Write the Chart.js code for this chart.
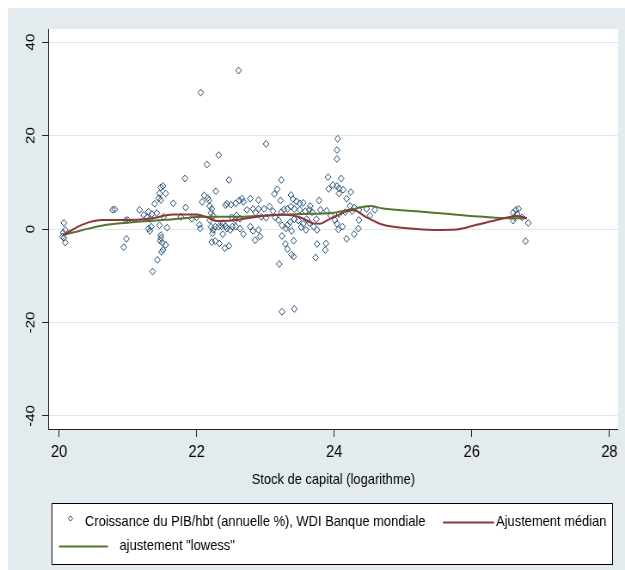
<!DOCTYPE html>
<html>
<head>
<meta charset="utf-8">
<script src="https://cdn.jsdelivr.net/npm/chart.js@4.4.1/dist/chart.umd.min.js"></script>
<style>
  html, body { margin: 0; padding: 0; background: #fff; }
  #capital { display: block; }
</style>
</head>
<body>
<canvas id="capital" width="727" height="570" style="width:625px;height:570px"></canvas>
<script>
// log capital stock (x) vs GDP per capita growth (y), one point per observation
const capitalLog = [
  20.07, 20.09, 20.05, 20.07, 20.09, 20.06, 20.78, 20.81, 20.98, 20.94,
  20.97, 21.00, 21.17, 21.23, 21.28, 21.30, 21.32, 21.35, 21.39, 21.42,
  21.45, 21.46, 21.48, 21.48, 21.51, 21.55, 21.52, 21.46, 21.30, 21.32,
  21.34, 21.48, 21.48, 21.47, 21.50, 21.55, 21.51, 21.49, 21.43, 21.36,
  21.57, 21.66, 21.83, 21.84, 21.77, 21.93, 22.00, 22.04, 22.05, 22.15,
  22.32, 22.47, 22.28, 22.11, 22.08, 22.16, 22.18, 22.19, 22.22, 22.21,
  22.24, 22.19, 22.21, 22.24, 22.27, 22.23, 22.22, 22.27, 22.33, 22.41,
  22.47, 22.38, 22.36, 22.42, 22.50, 22.57, 22.51, 22.56, 22.42, 22.44,
  22.52, 22.58, 22.62, 23.01, 23.23, 23.17, 23.13, 23.22, 23.37, 23.40,
  23.45, 23.50, 23.55, 24.05, 24.04, 24.04, 23.91, 23.98, 24.10, 23.92,
  24.04, 24.07, 24.13, 24.24, 24.18, 23.78, 22.44, 22.66, 22.68, 22.78,
  22.82, 22.90, 22.98, 23.06, 23.11, 23.23, 23.27, 23.32, 23.37, 23.42,
  23.50, 23.58, 23.64, 23.68, 23.80, 23.89, 23.95, 24.01, 24.07, 24.16,
  24.26, 24.29, 24.36, 24.47, 24.59, 24.52, 24.36, 24.35, 24.29, 24.18,
  24.12, 24.06, 24.04, 23.88, 23.87, 23.75, 23.73, 23.75, 23.70, 23.64,
  23.55, 23.52, 23.59, 23.48, 23.42, 23.36, 23.32, 23.30, 23.38, 23.41,
  23.29, 23.32, 23.38, 23.41, 23.24, 23.24, 23.19, 23.14, 23.20, 23.01,
  22.94, 22.90, 22.92, 22.85, 22.82, 22.68, 22.63, 22.57, 22.49, 22.38,
  22.32, 22.63, 22.78, 22.73, 22.90, 22.86, 23.24, 23.42, 22.06, 22.61,
  23.65, 24.23, 23.74, 23.60, 24.07, 26.60, 26.64, 26.68, 26.62, 26.60,
  26.73, 26.82, 26.78, 26.66
];
const growthPib = [
  1.3, -0.2, -1.6, -1.9, -2.9, -0.8, 4.1, 4.2, -2.1, -3.9,
  1.9, 1.9, 4.1, 3.0, 2.5, 3.7, 2.1, 3.2, 5.4, 3.4,
  6.6, 7.6, 6.2, 8.9, 9.2, 7.6, 2.6, 0.8, 0.1, -0.4,
  0.5, -1.3, -1.9, -2.5, -2.9, -3.4, -4.5, -4.9, -6.6, -9.1,
  0.3, 5.5, 10.8, 4.6, 2.6, 2.2, 2.5, 0.9, 0.1, 13.8,
  15.8, 10.5, 8.1, 7.2, 5.8, 6.6, 6.2, 4.9, 4.3, 3.5,
  2.8, 1.9, 0.5, -0.2, 0.5, -0.9, -2.8, -2.6, -3.1, -4.1,
  -3.6, -1.1, 0.6, 5.1, 5.2, 5.5, 2.5, 1.9, 0.6, 0.1,
  0.5, 2.9, 6.1, 18.2, 10.5, 8.5, 7.5, 6.1, 7.3, 6.4,
  5.9, 5.5, 5.6, 19.3, 16.9, 15.0, 11.1, 9.4, 10.8, 8.6,
  9.2, 7.6, 8.4, 7.9, 6.5, 6.1, 5.4, 6.5, 5.8, 6.5,
  4.3, 4.3, 4.3, 4.8, 3.8, 3.6, 4.2, 4.3, 4.8, 4.3,
  4.1, 3.8, 4.1, 3.6, 4.1, 3.9, 2.9, 1.9, 3.2, 3.6,
  3.8, 4.6, 4.1, 4.3, 4.1, 2.9, 1.9, 0.1, -1.1, -2.1,
  0.5, -0.1, 1.1, -3.1, -4.5, -3.2, -6.1, -0.2, 0.5, 1.3,
  1.1, 0.4, -0.2, 1.8, 2.1, 1.5, 0.8, 0.1, -0.4, -2.5,
  -3.2, -4.3, -5.5, -5.9, -1.5, 0.8, 1.9, 2.5, -7.5, 2.4,
  2.6, -0.2, -1.6, -2.4, -0.4, -1.1, 0.1, 0.5, -0.2, 1.3,
  0.5, 2.2, 0.5, 4.1, 6.2, 3.5, -17.7, -17.1, 29.2, 33.9,
  4.9, 4.9, 2.1, 2.1, 8.7, 3.5, 4.1, 4.3, 2.5, 1.8,
  2.5, 1.3, -2.6, 3.2
];

// median spline
const medianX = [20.06, 20.35, 20.64, 20.93, 21.32, 21.66, 22.0, 22.15, 22.3, 22.5, 22.78, 23.02, 23.26, 23.5, 23.7, 23.79, 23.89, 24.04, 24.18, 24.28, 24.47, 24.71, 25.1, 25.44, 25.78, 26.07, 26.41, 26.65, 26.8];
const medianY = [-1.3, 1.0, 1.9, 1.9, 2.2, 3.1, 3.1, 2.5, 1.7, 1.8, 2.4, 2.9, 3.1, 2.5, 1.2, 1.1, 1.8, 2.9, 3.8, 4.0, 2.5, 0.9, 0.1, -0.2, -0.1, 0.9, 2.1, 2.8, 2.3];

// lowess smoother
const lowessX = [20.06, 20.35, 20.69, 21.18, 21.66, 22.15, 22.63, 23.02, 23.5, 23.99, 24.28, 24.52, 24.71, 25.2, 25.68, 26.17, 26.55, 26.8];
const lowessY = [-1.3, -0.2, 0.9, 1.6, 2.1, 2.6, 2.6, 2.9, 3.2, 3.5, 4.3, 4.9, 4.4, 3.8, 3.2, 2.6, 2.3, 2.3];

const xTickValues = [20, 22, 24, 26, 28];
const yTickValues = [-40, -20, 0, 20, 40];

const NAVY = "rgb(26,71,111)";
const MAROON = "rgb(144,53,59)";
const FOREST = "rgb(85,117,47)";
const FONT = "'Liberation Sans', Arial, sans-serif";

// canvas is drawn wider and squeezed to 625px by css
const X = (v) => (v * 727) / 625;

const pairs = (xs, ys) => xs.map((x, i) => ({ x: x, y: ys[i] }));

const backdrop = {
  id: "backdrop",
  beforeDraw(chart) {
    const { ctx, chartArea: a } = chart;
    ctx.save();
    ctx.fillStyle = "#e3ebee";
    ctx.fillRect(X(8), 8, chart.width, chart.height);
    ctx.fillStyle = "#ffffff";
    ctx.fillRect(a.left, a.top, a.right - a.left, a.bottom - a.top);
    ctx.restore();
  },
};

// rotated y tick labels
const yLabels = {
  id: "yLabels",
  afterDraw(chart) {
    const { ctx } = chart;
    const s = chart.scales.y;
    ctx.save();
    ctx.font = "15px " + FONT;
    ctx.fillStyle = "#000";
    ctx.textAlign = "center";
    ctx.textBaseline = "middle";
    s.ticks.forEach((t) => {
      ctx.save();
      ctx.translate(X(31), s.getPixelForValue(t.value));
      ctx.rotate(-Math.PI / 2);
      ctx.fillText(String(t.value), 0, 0);
      ctx.restore();
    });
    ctx.restore();
  },
};

// boxed legend below the axis title
const boxLegend = {
  id: "boxLegend",
  afterDraw(chart) {
    const { ctx } = chart;
    const ds = chart.data.datasets;
    ctx.save();
    ctx.fillStyle = "#fff";
    ctx.fillRect(X(52), 503, X(612.5) - X(52), 62);
    ctx.strokeStyle = "#000";
    ctx.lineWidth = 1;
    ctx.strokeRect(Math.round(X(52)) + 0.5, 503.5, Math.round(X(612.5) - X(52)), 61);

    ctx.font = "15px " + FONT;
    ctx.fillStyle = "#000";
    ctx.textBaseline = "middle";

    // marker key
    ctx.strokeStyle = NAVY;
    ctx.beginPath();
    const cx = X(70.5), cy = 518.5, r = 2.6;
    ctx.moveTo(cx, cy - r);
    ctx.lineTo(cx + r, cy);
    ctx.lineTo(cx, cy + r);
    ctx.lineTo(cx - r, cy);
    ctx.closePath();
    ctx.stroke();
    ctx.fillText(ds[2].label, X(85), 522);

    // line keys
    ctx.lineWidth = 2;
    ctx.strokeStyle = MAROON;
    ctx.beginPath();
    ctx.moveTo(X(443), 522.5);
    ctx.lineTo(X(494), 522.5);
    ctx.stroke();
    ctx.fillText(ds[0].label, X(496), 522);

    ctx.strokeStyle = FOREST;
    ctx.beginPath();
    ctx.moveTo(X(59), 546.5);
    ctx.lineTo(X(108), 546.5);
    ctx.stroke();
    ctx.fillText(ds[1].label, X(119.5), 546);
    ctx.restore();
  },
};

const ctx = document.getElementById("capital").getContext("2d");

new Chart(ctx, {
  type: "scatter",
  data: {
    datasets: [
      {
        label: "Ajustement médian",
        data: pairs(medianX, medianY),
        showLine: true,
        borderColor: MAROON,
        borderWidth: 2,
        pointRadius: 0,
        cubicInterpolationMode: "monotone",
        order: 0,
      },
      {
        label: 'ajustement "lowess"',
        data: pairs(lowessX, lowessY),
        showLine: true,
        borderColor: FOREST,
        borderWidth: 2,
        pointRadius: 0,
        cubicInterpolationMode: "monotone",
        order: 0,
      },
      {
        label: "Croissance du PIB/hbt (annuelle %), WDI Banque mondiale",
        data: pairs(capitalLog, growthPib),
        pointStyle: "rectRot",
        pointRadius: 3.4,
        borderWidth: 1,
        borderColor: NAVY,
        backgroundColor: "rgba(0,0,0,0)",
        order: 1,
      },
    ],
  },
  options: {
    responsive: false,
    animation: false,
    events: [],
    layout: {
      autoPadding: false,
      padding: { left: X(8), top: 29, right: 727 - X(618), bottom: 81 },
    },
    plugins: {
      legend: { display: false },
      tooltip: { enabled: false },
    },
    scales: {
      x: {
        type: "linear",
        min: 19.85,
        max: 28.125,
        afterFit: (s) => { s.height = 60; },
        afterBuildTicks: (s) => { s.ticks = xTickValues.map((v) => ({ value: v })); },
        grid: { drawOnChartArea: false, tickLength: 8, tickColor: "#222" },
        border: { color: "#222", width: 1 },
        ticks: { autoSkip: false, maxRotation: 0, padding: 5, color: "#000", font: { family: FONT, size: 17 } },
        title: {
          display: true,
          text: "Stock de capital (logarithme)",
          color: "#000",
          padding: { top: 0, bottom: 0 },
          font: { family: FONT, size: 15 },
        },
      },
      y: {
        type: "linear",
        min: -42.8,
        max: 42.8,
        afterFit: (s) => { s.width = X(40.7); },
        afterBuildTicks: (s) => { s.ticks = yTickValues.map((v) => ({ value: v })); },
        grid: { color: "#dfe8eb", tickLength: X(6.5), tickColor: "#222" },
        border: { color: "#222", width: 1 },
        ticks: { display: false },
      },
    },
  },
  plugins: [backdrop, yLabels, boxLegend],
});
</script>
</body>
</html>
